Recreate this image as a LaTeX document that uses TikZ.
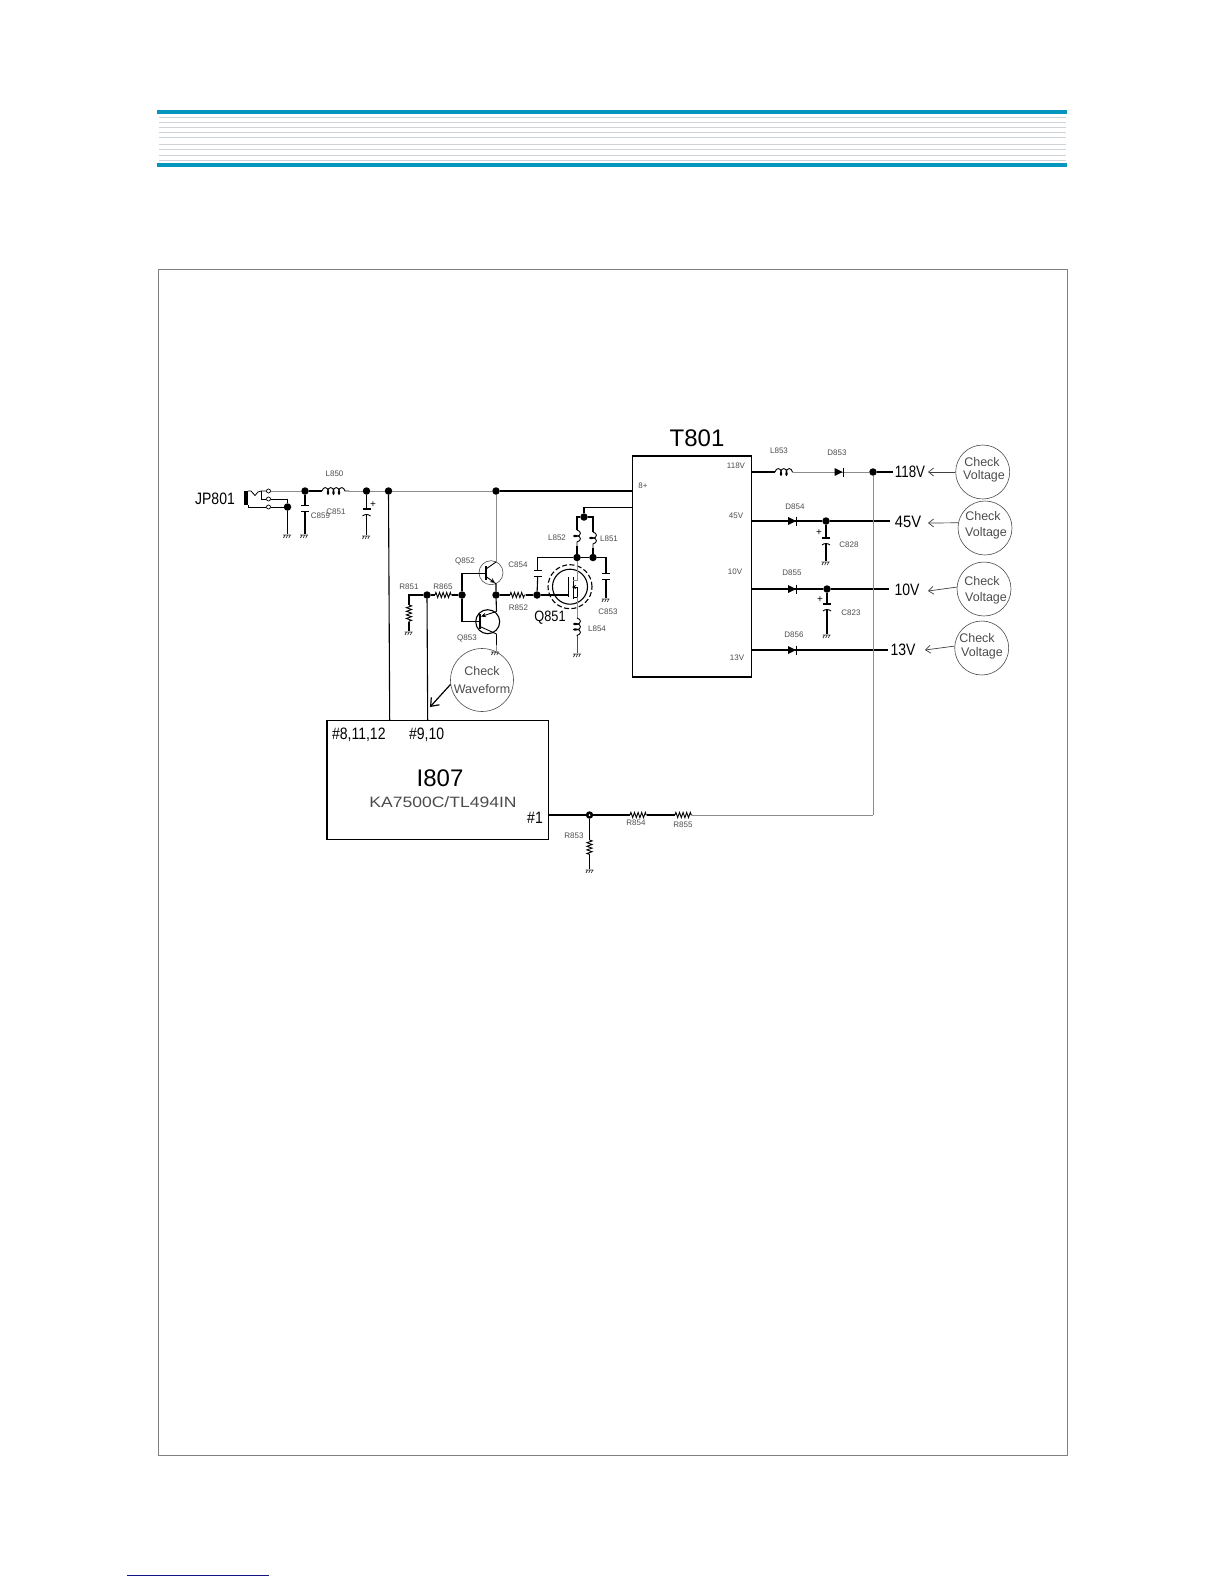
\documentclass[tikz,border=0pt]{standalone}
\usepackage{fontspec}
\setmainfont{Liberation Sans}
\usetikzlibrary{arrows.meta,decorations.pathmorphing}
\definecolor{teal1}{RGB}{5,150,190}
\definecolor{rule1}{RGB}{205,212,218}
\definecolor{navy1}{RGB}{20,20,130}
\definecolor{wiregray}{gray}{0.55}
\definecolor{txtgray}{gray}{0.3}
\tikzset{
  wire/.style={line width=1.1pt,black,line join=miter},
  gwire/.style={line width=1pt,wiregray},
  dot/.style={circle,fill=black,inner sep=0pt,minimum size=7.5pt},
  term/.style={circle,draw=black,line width=.7pt,fill=white,inner sep=0pt,minimum size=4pt},
  res/.style={line width=.9pt,black,decorate,decoration={zigzag,segment length=3.6pt,amplitude=2.6pt}},
  ind/.style={line width=.9pt,black,decorate,decoration={coil,aspect=.55,segment length=5.5pt,amplitude=3.4pt}},
  sm/.style={font=\fontsize{8}{9}\selectfont,text=txtgray,inner sep=0pt},
  md/.style={font=\fontsize{16.5}{18}\selectfont,inner sep=1pt,transform shape,xscale=.85},
  lg/.style={font=\fontsize{24}{26}\selectfont,inner sep=0pt},
  chk/.style={font=\fontsize{12.5}{14}\selectfont,text=txtgray,inner sep=0pt},
  checkc/.style={circle,draw=black!70,line width=.6pt,inner sep=0pt,minimum size=54pt},
  arr/.style={line width=.7pt,black!75,-{Straight Barb[length=5pt,width=8pt]}},
  box/.style={draw=black,line width=1.1pt},
  gnd/.pic={\draw[line width=.7pt,black!80] (-4,0)--(4,0) (-3.5,3)--(-2,0) (-.8,3)--(.7,0) (1.8,3)--(3.3,0);},
  capn/.pic={\draw[line width=.9pt] (-4,0)--(4,0) (-4,6)--(4,6);},
  capp/.pic={\draw[line width=1.1pt] (-4,0)--(4,0); \draw[line width=.9pt] (-4,7) .. controls (-2,5) and (2,5) .. (4,7);},
  diode/.pic={\fill (0,-4)--(8,0)--(0,4)--cycle; \draw[line width=1pt] (8.5,-4.5)--(8.5,4.5);},
}
\begin{document}
\begin{tikzpicture}[x=1pt,y=-1pt]
\useasboundingbox (0,0) rectangle (1224,1584);
% page furniture
\fill[teal1] (157,110) rectangle (1067,114);
\fill[teal1] (157,163) rectangle (1067,167);
\foreach \yy in {117.5,123,128,133,138,144.5,149.5,155,160.5}
  \draw[rule1,line width=1pt] (159,\yy)--(1066,\yy);
\draw[black!50,line width=1pt] (158.3,269.5) rectangle (1067.7,1455.5);
\draw[navy1,line width=1pt] (127,1575)--(269,1575);
% boxes
\node[box,minimum width=119pt,minimum height=221pt,inner sep=0pt] (T) at (692.2,566.5) {};
\node[box,minimum width=221.7pt,minimum height=118.7pt,inner sep=0pt] (I) at (437.8,779.7) {};
\coordinate (Itop1) at (389.7,720.3);
\coordinate (Itop2) at (427.7,720.3);
\coordinate (Iright) at (548.7,815);
% dots
\foreach \n/\xx/\yy in {d1/287.5/507,d2/305/491,d3/366.5/491,d4/388.5/491,d5/496/491,d6/427/595,d7/462/595,d8/496/595,d9/537/595,d10/584/517,d11/577/557.5,d12/593/557.5,d13/873/472,d14/826/521,d15/827/589,d16/589.5/815}
  \node[dot] (\n) at (\xx,\yy) {};
% input jack
\fill[black] (244,491) rectangle (248,505);
\node[term] (s1) at (268.5,491) {};
\node[term] (s2) at (268.5,499) {};
\node[term] (s3) at (268.5,507) {};
\draw[line width=.8pt] (248,491)--(251,491)--(255,495.5)--(258,492)--(261,491)--(s1);
\draw[line width=.8pt] (261,491)--(261,499)--(s2);
\draw[line width=.8pt] (s2)--(287.5,499)--(d1);
\draw[line width=.8pt] (248,505)--(248,507)--(s3);
\draw[line width=.8pt] (s3)--(d1);
\draw[gwire] (s1)--(d2);
\draw[wire] (d1)--(287.5,534);
\pic at (287,535) {gnd};
% C859
\draw[wire] (d2)--(305,505);
\pic at (305,505) {capn};
\draw[wire] (305,511)--(305,534);
\pic at (304,535) {gnd};
% L850
\coordinate (L850a) at (322,491); \coordinate (L850b) at (349,491);
\draw[wire] (d2)--(L850a);
\draw[ind] (L850a)--(L850b);
\draw[gwire] (L850b)--(d3);
\draw[gwire] (d3)--(d4);
\draw[gwire] (d4)--(d5);
\draw[wire] (d5)--(632.7,491);
% C851
\draw[wire] (d3)--(366.5,509);
\pic at (366.5,509) {capp};
\draw[wire] (366.5,514)--(366.5,535);
\pic at (366,536) {gnd};
\draw[wire] (d4)--(Itop1);
% R851
\draw[wire] (d6)--(409,595)--(409,605);
\coordinate (R851b) at (409,622);
\draw[res] (409,605)--(R851b);
\draw[wire] (R851b)--(409,631);
\pic at (408.5,632) {gnd};
% R865
\coordinate (R865a) at (435,595); \coordinate (R865b) at (452,595);
\draw[wire] (d6)--(R865a);
\draw[res] (R865a)--(R865b);
\draw[wire] (R865b)--(d7);
\draw[wire] (d6)--(Itop2);
% Q852
\node[circle,draw=black!70,line width=.6pt,minimum size=24pt,inner sep=0] (Q852) at (491,572.7) {};
\draw[wire] (d7)--(462,573.7)--(486,573.7);
\draw[line width=1.5pt] (486,566)--(486,580);
\draw[line width=.9pt] (486,569)--(496,562);
\draw[gwire] (d5)--(496,562);
\draw[line width=.9pt,-{Stealth[length=5pt,width=4.5pt]}] (486,576.5)--(495,583);
\draw[wire] (495,583)--(496,584)--(d8);
% Q853
\node[circle,draw=black,line width=1.1pt,minimum size=24pt,inner sep=0] (Q853) at (487.7,621.7) {};
\draw[wire] (d7)--(462,621.7)--(480,621.7);
\draw[line width=1.5pt] (480,614)--(480,629);
\draw[line width=.9pt,{Stealth[length=5pt,width=4.5pt]}-] (481,616.5)--(496.5,611.5);
\draw[wire] (496.5,611.5)--(d8);
\draw[line width=.9pt] (480,626.5)--(496.5,634);
\draw[wire] (496.5,634)--(496.5,645);
\draw[gwire] (496.5,645)--(496.5,651);
\pic at (495,652) {gnd};
% R852
\coordinate (R852a) at (510,595); \coordinate (R852b) at (526,595);
\draw[wire] (d8)--(R852a);
\draw[res] (R852a)--(R852b);
\draw[wire] (R852b)--(d9);
% C854
\draw[wire] (d11)--(537.7,557.5)--(537.7,570);
\pic at (537.7,570.5) {capn};
\draw[wire] (537.7,576.5)--(d9);
\draw[wire] (d11)--(d12);
\draw[wire] (d12)--(606,557.5)--(606,573);
\pic at (606,573) {capn};
\draw[wire] (606,579)--(606,598);
\pic at (605.5,599) {gnd};
% Q851
\node[circle,draw=black,line width=1.1pt,dash pattern=on 5pt off 2.5pt,minimum size=44pt,inner sep=0] (Q851o) at (570,586.7) {};
\node[circle,draw=black,line width=1.1pt,minimum size=35pt,inner sep=0] (Q851i) at (570,586.7) {};
\draw[wire] (d9)--(568.5,595);
\draw[line width=1.8pt] (568.5,577)--(568.5,597);
\draw[line width=.7pt] (573,577)--(573,599);
\draw[gwire] (d11)--(577,580)--(573,580);
\draw[line width=.7pt,{Stealth[length=4pt,width=4pt]}-] (572,587)--(577,587)--(577,597)--(573,597);
\draw[gwire] (577,597)--(577,618);
\coordinate (L854a) at (577,618); \coordinate (L854b) at (577,636);
\draw[ind] (L854a)--(L854b);
\draw[line width=.9pt,black!70] (L854b)--(577,653);
\pic at (577,654) {gnd};
% L852 / L851
\coordinate (L852a) at (577,530); \coordinate (L852b) at (577,546);
\coordinate (L851a) at (593,532); \coordinate (L851b) at (593,548);
\draw[wire] (d10)--(577,517)--(L852a);
\draw[ind] (L852a)--(L852b);
\draw[wire] (L852b)--(d11);
\draw[wire] (d10)--(593,517)--(L851a);
\draw[ind] (L851a)--(L851b);
\draw[wire] (L851b)--(d12);
\draw[wire] (d10)--(584,507.5)--(632.7,507.5);
% check waveform
\node[circle,draw=black!70,line width=.6pt,minimum size=63pt,inner sep=0] (cw) at (482,680) {};
\draw[line width=1.2pt,black,-{Straight Barb[length=7pt,width=11pt]}] (cw.188)--(430,707);
% T801 outputs
\coordinate (L853a) at (775,472); \coordinate (L853b) at (793,472);
\draw[wire] (752,472)--(L853a);
\draw[ind] (L853a)--(L853b);
\draw[gwire] (L853b)--(d13);
\pic at (834.5,472) {diode};
\draw[wire] (d13)--(893,472);
\draw[wire] (752,521)--(d14);
\pic at (788,521) {diode};
\draw[wire] (d14)--(890,521);
\draw[wire] (d14)--(826,538);
\pic at (826,538) {capp};
\draw[wire] (826,543)--(826,561);
\pic at (825.5,562) {gnd};
\draw[wire] (752,589)--(d15);
\pic at (788,589) {diode};
\draw[wire] (d15)--(889,589);
\draw[wire] (d15)--(827,604);
\pic at (827,604) {capp};
\draw[wire] (827,609)--(827,634);
\pic at (826.5,635) {gnd};
\draw[wire] (752,650)--(888,650);
\pic at (788,650) {diode};
\draw[gwire] (d13)--(873,815);
% feedback
\coordinate (R854a) at (630,815); \coordinate (R854b) at (647,815);
\coordinate (R855a) at (675,815); \coordinate (R855b) at (692,815);
\coordinate (R853a) at (589.5,840); \coordinate (R853b) at (589.5,855);
\draw[wire] (Iright)--(d16);
\draw[wire] (d16)--(R854a);
\draw[res] (R854a)--(R854b);
\draw[wire] (R854b)--(R855a);
\draw[res] (R855a)--(R855b);
\draw[gwire] (R855b)--(873,815);
\draw[wire] (d16)--(R853a);
\draw[res] (R853a)--(R853b);
\draw[wire] (R853b)--(589.5,869);
\pic at (589.5,870) {gnd};
\fill[white] (589.5,815) circle (1pt);
% check voltage circles
\node[checkc] (cv1) at (982.7,472) {};
\node[checkc] (cv2) at (985,528) {};
\node[checkc] (cv3) at (984,589) {};
\node[checkc] (cv4) at (981.7,648) {};
\draw[arr] (cv1.180)--(928,472);
\draw[arr] (cv2.169)--(928,523);
\draw[arr] (cv3.176)--(928,591);
\draw[arr] (cv4.176)--(925,650);
% text
\node[md] (tJP) at (215,499) {JP801};
\node[lg] (tT) at (697,438) {T801};
\node[lg] (tI) at (440,778) {I807};
\node[font=\fontsize{15}{16}\selectfont,text=txtgray,inner sep=0pt,transform shape,xscale=1.17] (tKA) at (443,802) {KA7500C/TL494IN};
\node[md,anchor=west] (p1) at (331,735) {\#8,11,12};
\node[md,anchor=west] (p2) at (408,735) {\#9,10};
\node[md] (p3) at (535,818) {\#1};
\node[md,xscale=.95] (v1) at (910,472) {118V};
\node[md,xscale=1.05] (v2) at (908,522) {45V};
\node[md] (v3) at (907,590) {10V};
\node[md] (v4) at (903,650) {13V};
\node[md,font=\fontsize{15}{16}\selectfont] (tQ851) at (550,618) {Q851};
\foreach \n/\xx/\yy/\tt in {a1/334.5/474/L850,a2/320.5/516/C859,a3/336/512/C851,a4/409/587/R851,a5/443/587/R865,a6/465/561/Q852,a7/518/565/C854,a8/467/638/Q853,a9/518.5/608/R852,a10/608/612/C853,a11/597/629/L854,a12/557/538/L852,a13/609/539/L851,a14/574/835.5/R853,a15/636/823/R854,a16/683/825/R855,a17/736/466/118V,a18/643/486/8+,a19/736/516/45V,a20/735/572/10V,a21/737/658/13V,a22/779/451/L853,a23/837/453/D853,a24/795/507/D854,a25/792/573/D855,a26/794/635/D856,a27/849/545/C828,a28/851/613/C823}
  \node[sm] (\n) at (\xx,\yy) {\tt};
\node[font=\fontsize{10}{10}\selectfont,inner sep=0pt] (pl1) at (373,505) {+};
\node[font=\fontsize{10}{10}\selectfont,inner sep=0pt] (pl2) at (819,533) {+};
\node[font=\fontsize{10}{10}\selectfont,inner sep=0pt] (pl3) at (820,600) {+};
\node[chk] (w1) at (482,671) {Check};
\node[chk] (w2) at (482,689) {Waveform};
\node[chk] (c1a) at (982,462) {Check};
\node[chk] (c1b) at (984,476) {Voltage};
\node[chk] (c2a) at (983,516) {Check};
\node[chk] (c2b) at (986,533) {Voltage};
\node[chk] (c3a) at (982,581) {Check};
\node[chk] (c3b) at (986,598) {Voltage};
\node[chk] (c4a) at (977,638) {Check};
\node[chk] (c4b) at (982,653) {Voltage};
\end{tikzpicture}
\end{document}
